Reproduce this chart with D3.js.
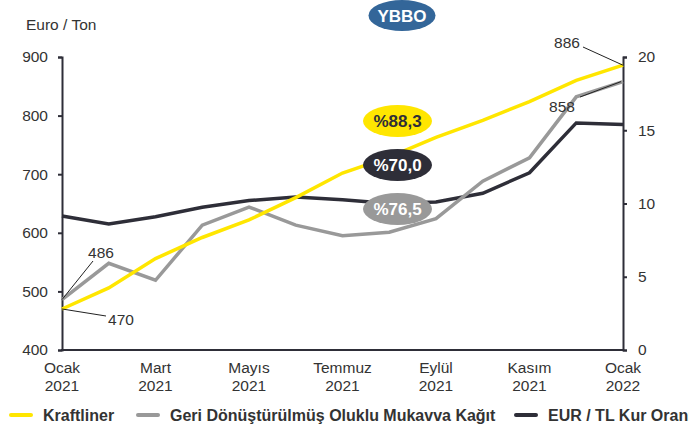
<!DOCTYPE html>
<html>
<head>
<meta charset="utf-8">
<script src="https://cdn.jsdelivr.net/npm/d3@7"></script>
<style>
  body { margin: 0; background: #fff; }
  svg { display: block; font-family: "Liberation Sans", Arial, sans-serif; }
</style>
</head>
<body>
<svg width="689" height="427"></svg>
<script>
// data
const months = ["Ocak 2021", "Şubat 2021", "Mart 2021", "Nisan 2021", "Mayıs 2021", "Haziran 2021",
  "Temmuz 2021", "Ağustos 2021", "Eylül 2021", "Ekim 2021", "Kasım 2021", "Aralık 2021", "Ocak 2022"];
const kraftliner = [470, 506, 556, 592, 622, 660, 702, 729, 763, 792, 824, 860, 886];
const geriDonusum = [486, 548, 519, 613, 644, 613, 595, 601, 624, 688, 728, 832, 858];
const eurTl = [9.15, 8.6, 9.1, 9.75, 10.2, 10.45, 10.25, 10.0, 10.1, 10.7, 12.1, 15.5, 15.4];
const leftTicks = [400, 500, 600, 700, 800, 900];
const rightTicks = [0, 5, 10, 15, 20];
const shownMonths = [0, 2, 4, 6, 8, 10, 12];
const badges = [
  { text: "%88,3", fill: "#ffe600", color: "#2e2e38" },
  { text: "%70,0", fill: "#2e2e38", color: "#ffffff" },
  { text: "%76,5", fill: "#999999", color: "#ffffff" }
];

const svg = d3.select("svg");
const textColor = "#333333";
const axisColor = "#2e2e38";
const fs = 15.5;

const x = d3.scalePoint().domain(d3.range(months.length)).range([62, 623]);
const yL = d3.scaleLinear().domain([400, 900]).range([350, 57]);
const yR = d3.scaleLinear().domain([0, 20]).range([350, 57]);

// axes
const leftAxis = svg.append("g").attr("transform", "translate(62,0)")
  .call(d3.axisLeft(yL).tickValues(leftTicks).tickSize(4).tickPadding(10));
const rightAxis = svg.append("g").attr("transform", "translate(623,0)")
  .call(d3.axisRight(yR).tickValues(rightTicks).tickSize(4).tickPadding(11));
[leftAxis, rightAxis].forEach(g => {
  g.select(".domain").attr("stroke", axisColor).attr("stroke-width", 2);
  g.selectAll(".tick line").attr("stroke", axisColor).attr("stroke-width", 2);
  g.selectAll(".tick text").attr("fill", textColor).attr("font-size", fs)
    .attr("font-family", "Liberation Sans, Arial, sans-serif");
});

svg.append("line").attr("x1", 61).attr("x2", 624).attr("y1", 350).attr("y2", 350)
  .attr("stroke", axisColor).attr("stroke-width", 2);

// x labels
const xl = svg.append("g").selectAll("text").data(shownMonths).join("text")
  .attr("x", d => x(d)).attr("y", 373).attr("text-anchor", "middle")
  .attr("fill", textColor).attr("font-size", fs);
xl.append("tspan").attr("x", d => x(d)).text(d => months[d].split(" ")[0]);
xl.append("tspan").attr("x", d => x(d)).attr("dy", 18).text(d => months[d].split(" ")[1]);

svg.append("text").attr("x", 26).attr("y", 30).attr("fill", textColor).attr("font-size", fs)
  .text("Euro / Ton");

// lines
const lineL = d3.line().x((d, i) => x(i)).y(d => yL(d));
const lineR = d3.line().x((d, i) => x(i)).y(d => yR(d));

svg.append("path").datum(eurTl).attr("d", lineR).attr("fill", "none")
  .attr("stroke", "#2e2e38").attr("stroke-width", 3.5);
svg.append("path").datum(geriDonusum).attr("d", lineL).attr("fill", "none")
  .attr("stroke", "#999999").attr("stroke-width", 3.5);
svg.append("path").datum(kraftliner).attr("d", lineL).attr("fill", "none")
  .attr("stroke", "#ffe600").attr("stroke-width", 3.5);

// value callouts
const last = months.length - 1;
const callouts = [
  { v: kraftliner[last], px: x(last), py: yL(kraftliner[last]), lx: 583, ly: 47, tx: 567, ty: 48 },
  { v: geriDonusum[last], px: x(last) - 2, py: yL(geriDonusum[last]), lx: 580, ly: 97, tx: 562, ty: 112 },
  { v: geriDonusum[0], px: x(0), py: yL(geriDonusum[0]), lx: 93, ly: 261, tx: 101, ty: 258 },
  { v: kraftliner[0], px: x(0), py: yL(kraftliner[0]), lx: 106, ly: 316, tx: 121, ty: 325 }
];
const cg = svg.append("g");
cg.selectAll("line").data(callouts).join("line")
  .attr("x1", d => d.px).attr("y1", d => d.py).attr("x2", d => d.lx).attr("y2", d => d.ly)
  .attr("stroke", "#222").attr("stroke-width", 1);
cg.selectAll("text").data(callouts).join("text")
  .attr("x", d => d.tx).attr("y", d => d.ty).attr("text-anchor", "middle")
  .attr("fill", textColor).attr("font-size", fs).text(d => d.v);

// badges
const bg = svg.append("g").selectAll("g").data(badges).join("g")
  .attr("transform", (d, i) => `translate(397.5,${121 + i * 44})`);
bg.append("ellipse").attr("rx", 34.5).attr("ry", 16).attr("fill", d => d.fill);
bg.append("text").attr("text-anchor", "middle").attr("dy", "0.36em")
  .attr("font-size", 17).attr("font-weight", "bold").attr("fill", d => d.color).text(d => d.text);

const yb = svg.append("g").attr("transform", "translate(402,15.5)");
yb.append("ellipse").attr("rx", 33.5).attr("ry", 15.5).attr("fill", "#336699");
yb.append("text").attr("text-anchor", "middle").attr("dy", "0.36em")
  .attr("font-size", 17).attr("font-weight", "bold").attr("fill", "#fff").text("YBBO");

// legend
const legend = [
  { name: "Kraftliner", color: "#ffe600", x: 10 },
  { name: "Geri Dönüştürülmüş Oluklu Mukavva Kağıt", color: "#999999", x: 137 },
  { name: "EUR / TL Kur Oranı", color: "#2e2e38", x: 515 }
];
const lg = svg.append("g").selectAll("g").data(legend).join("g")
  .attr("transform", d => `translate(${d.x},415)`);
lg.append("line").attr("x1", 1).attr("x2", 21).attr("stroke", d => d.color)
  .attr("stroke-width", 4).attr("stroke-linecap", "round");
lg.append("text").attr("x", 33).attr("dy", "0.35em").attr("font-size", 16)
  .attr("font-weight", "bold").attr("fill", textColor).text(d => d.name);
</script>
</body>
</html>
